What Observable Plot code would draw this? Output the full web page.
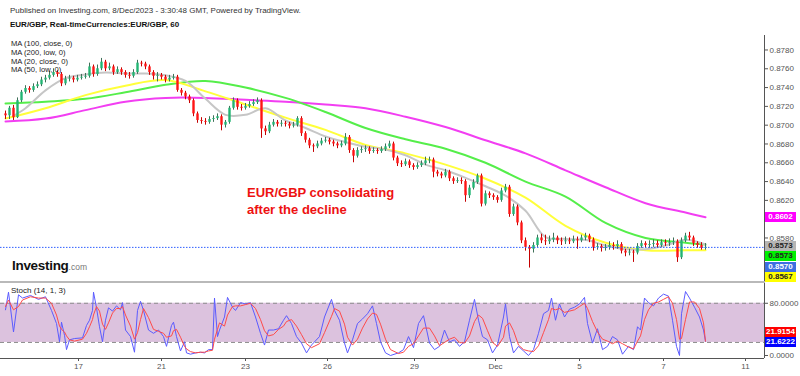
<!DOCTYPE html>
<html><head><meta charset="utf-8">
<script src="https://cdn.jsdelivr.net/npm/d3@7"></script>
<script src="https://cdn.jsdelivr.net/npm/@observablehq/plot@0.6"></script>
<style>
body{margin:0;background:#fff;font-family:"Liberation Sans",Arial,sans-serif;}
#root{position:relative;width:800px;height:376px;overflow:hidden;background:#fff;}
.abs{position:absolute;white-space:nowrap;line-height:1;}
.box{position:absolute;left:765px;width:31px;height:10px;line-height:10px;font-size:8px;font-weight:bold;text-align:center;}
</style></head><body><div id="root"></div>
<script>
// ---- hourly EUR/GBP candles (index = hour bar) ----
const firstOpen = 0.8712;
const closes = [
0.8710,0.8718,0.8708,0.8726,0.8735,0.8739,0.8737,0.8741,0.8743,0.8748,
0.8750,0.8753,0.8756,0.8754,0.8744,0.8749,0.8750,0.8748,0.8750,0.8751,
0.8752,0.8762,0.8754,0.8760,0.8767,0.8760,0.8762,0.8756,0.8759,0.8756,
0.8753,0.8752,0.8756,0.8766,0.8765,0.8762,0.8756,0.8752,0.8753,0.8751,
0.8748,0.8750,0.8751,0.8737,0.8734,0.8730,0.8726,0.8712,0.8705,0.8704,
0.8703,0.8706,0.8707,0.8709,0.8700,0.8703,0.8718,0.8726,0.8719,0.8718,
0.8720,0.8722,0.8724,0.8726,0.8696,0.8693,0.8700,0.8703,0.8701,0.8702,
0.8701,0.8699,0.8700,0.8707,0.8691,0.8684,0.8678,0.8677,0.8680,0.8683,
0.8684,0.8682,0.8680,0.8678,0.8680,0.8687,0.8673,0.8667,0.8673,0.8674,
0.8675,0.8672,0.8673,0.8672,0.8674,0.8677,0.8680,0.8665,0.8659,0.8658,
0.8661,0.8657,0.8655,0.8657,0.8659,0.8662,0.8663,0.8650,0.8648,0.8646,
0.8650,0.8643,0.8640,0.8641,0.8640,0.8625,0.8633,0.8639,0.8646,0.8616,
0.8627,0.8625,0.8623,0.8620,0.8630,0.8634,0.8605,0.8613,0.8596,0.8577,
0.8570,0.8568,0.8572,0.8580,0.8577,0.8576,0.8578,0.8580,0.8577,0.8576,
0.8577,0.8576,0.8578,0.8577,0.8580,0.8582,0.8578,0.8570,0.8571,0.8569,
0.8570,0.8572,0.8571,0.8573,0.8566,0.8564,0.8565,0.8564,0.8571,0.8574,
0.8572,0.8573,0.8574,0.8572,0.8575,0.8574,0.8575,0.8576,0.8559,0.8577,
0.8582,0.8580,0.8574,0.8572,0.8569,0.8570];
const highs = [
0.8715,0.8720,0.8721,0.8729,0.8737,0.8742,0.8741,0.8744,0.8746,0.8751,
0.8753,0.8757,0.8760,0.8758,0.8756,0.8752,0.8753,0.8752,0.8753,0.8754,
0.8755,0.8766,0.8764,0.8764,0.8771,0.8769,0.8766,0.8764,0.8762,0.8761,
0.8758,0.8756,0.8759,0.8769,0.8768,0.8767,0.8764,0.8758,0.8756,0.8755,
0.8753,0.8753,0.8754,0.8753,0.8739,0.8736,0.8732,0.8728,0.8714,0.8708,
0.8707,0.8709,0.8710,0.8712,0.8711,0.8705,0.8720,0.8729,0.8728,0.8722,
0.8723,0.8725,0.8727,0.8729,0.8728,0.8699,0.8703,0.8706,0.8705,0.8705,
0.8704,0.8703,0.8703,0.8709,0.8709,0.8693,0.8686,0.8680,0.8683,0.8686,
0.8687,0.8686,0.8684,0.8682,0.8683,0.8691,0.8689,0.8675,0.8676,0.8677,
0.8678,0.8677,0.8676,0.8675,0.8677,0.8680,0.8683,0.8682,0.8667,0.8662,
0.8664,0.8663,0.8659,0.8660,0.8662,0.8666,0.8666,0.8665,0.8652,0.8650,
0.8653,0.8652,0.8645,0.8644,0.8644,0.8642,0.8636,0.8642,0.8648,0.8648,
0.8630,0.8629,0.8627,0.8625,0.8633,0.8637,0.8636,0.8616,0.8615,0.8598,
0.8580,0.8572,0.8575,0.8583,0.8584,0.8583,0.8582,0.8585,0.8582,0.8580,
0.8581,0.8580,0.8582,0.8581,0.8583,0.8585,0.8584,0.8580,0.8574,0.8573,
0.8573,0.8576,0.8575,0.8577,0.8575,0.8568,0.8568,0.8567,0.8574,0.8577,
0.8576,0.8577,0.8578,0.8577,0.8578,0.8578,0.8579,0.8580,0.8578,0.8580,
0.8585,0.8586,0.8582,0.8576,0.8575,0.8574];
const lows = [
0.8706,0.8706,0.8705,0.8707,0.8724,0.8733,0.8734,0.8735,0.8739,0.8741,
0.8745,0.8748,0.8751,0.8751,0.8741,0.8742,0.8746,0.8745,0.8746,0.8748,
0.8749,0.8750,0.8751,0.8752,0.8758,0.8757,0.8758,0.8753,0.8754,0.8753,
0.8750,0.8749,0.8750,0.8754,0.8762,0.8759,0.8753,0.8748,0.8746,0.8748,
0.8745,0.8746,0.8748,0.8735,0.8731,0.8727,0.8723,0.8709,0.8702,0.8701,
0.8700,0.8701,0.8703,0.8705,0.8694,0.8697,0.8701,0.8716,0.8716,0.8715,
0.8716,0.8718,0.8720,0.8722,0.8686,0.8689,0.8691,0.8698,0.8698,0.8698,
0.8698,0.8696,0.8697,0.8698,0.8688,0.8681,0.8675,0.8671,0.8675,0.8678,
0.8681,0.8679,0.8677,0.8675,0.8676,0.8678,0.8670,0.8660,0.8665,0.8670,
0.8671,0.8669,0.8670,0.8669,0.8670,0.8672,0.8675,0.8662,0.8656,0.8655,
0.8656,0.8654,0.8652,0.8653,0.8655,0.8657,0.8659,0.8644,0.8645,0.8643,
0.8644,0.8640,0.8637,0.8638,0.8637,0.8618,0.8622,0.8631,0.8637,0.8613,
0.8614,0.8622,0.8620,0.8617,0.8618,0.8628,0.8602,0.8603,0.8593,0.8574,
0.8566,0.8548,0.8564,0.8570,0.8574,0.8572,0.8573,0.8575,0.8573,0.8572,
0.8573,0.8573,0.8574,0.8568,0.8575,0.8577,0.8575,0.8566,0.8567,0.8565,
0.8566,0.8567,0.8567,0.8568,0.8563,0.8560,0.8561,0.8554,0.8562,0.8569,
0.8569,0.8569,0.8570,0.8569,0.8570,0.8571,0.8571,0.8572,0.8554,0.8557,
0.8575,0.8577,0.8571,0.8569,0.8567,0.8567];

// ---- moving averages (sampled at bar index) ----
const maTimes = [0,10,20,30,40,50,60,70,80,90,100,110,120,130,140,150,160,170,175];
const ma50low = [0.8707,0.8718,0.8732,0.8742,0.8748,0.8736,0.8722,0.8708,0.8695,0.8679,0.8670,0.8658,0.8643,0.8623,0.8593,0.8575,0.8567,0.8567,0.8567];
const ma100close = [0.8723,0.8725,0.8728,0.8735,0.8743,0.8747,0.8740,0.8729,0.8714,0.8697,0.8685,0.8675,0.8660,0.8640,0.8624,0.8596,0.8580,0.8575,0.8573];
const ma200low = [0.8704,0.8707,0.8716,0.8725,0.8729,0.8729,0.8727,0.8725,0.8722,0.8718,0.8709,0.8698,0.8684,0.8670,0.8652,0.8634,0.8617,0.8607,0.8602];
const ma20Times = [2,5,10,15,20,25,30,35,40,45,50,55,60,65,70,75,80,85,90,95,100,105,110,115,120,125,130,135,140,145,150,155,160,165,170,175];
const ma20close = [0.8710,0.8718,0.8737,0.8750,0.8754,0.8756,0.8755,0.8755,0.8753,0.8747,0.8728,0.8711,0.8711,0.8718,0.8705,0.8697,0.8688,0.8682,0.8677,0.8674,0.8668,0.8658,0.8652,0.8644,0.8635,0.8625,0.8609,0.8581,0.8579,0.8578,0.8572,0.8568,0.8568,0.8572,0.8578,0.8573];

// ---- stochastic (14,1,3) ----
const stochT = [
0,0.75,2,3.25,4.25,6.25,8.25,10,11.5,12.75,
13.5,14,14.75,15.25,16,17.25,19.25,20.25,21,21.75,
22,22.75,23.5,24.25,25,25.75,26.75,27.75,28.75,29.25,
30,31.25,32.25,33,33.75,34.5,35.75,37,38.25,39.5,
40.25,41.5,42,42.75,43.75,44.75,45.25,46.25,47.5,48.75,
49.75,50.75,51.75,52.25,53,53.5,54.75,55.5,56.75,57.5,
58.75,60,61.25,62.5,63.75,64.75,65.75,67,68.25,69.5,
70.25,71.5,72.75,74,75.25,76.5,78.5,79.75,81.5,82.25,
83.5,84.75,85.5,86.75,88,89.25,90.5,91.75,92.75,93.75,
95,96.25,98.25,99.5,100.75,102,103.25,104.5,106,107.25,
108.5,109.75,111,112.25,113.5,114.75,116,117.25,118.25,119.25,
120.5,121.75,123,124.5,125,126,127,128.25,129.5,130.75,
132,133.25,134.5,135.75,136.5,137.5,138.5,139.75,141,142.25,
143.5,144.75,145.5,146.75,148,149.25,150.5,151.75,153,154.25,
155.75,157,158,158.75,159.75,160.75,162,163.25,164.5,165.75,
166.75,167.75,168.5,169,170,171,172.25,173.5,174.5,175];
const stochK = [
70,97,36,93,88,92,86,90,69,49,
21,51,31,9,24,26,27,46,54,69,
97,73,44,21,54,73,68,76,70,81,
39,29,5,69,83,69,39,34,39,29,
14,46,51,29,7,21,4,2,4,5,
4,9,9,88,29,39,59,89,74,69,
81,79,81,59,34,16,39,39,41,54,
61,49,29,19,4,16,29,59,86,69,
54,19,4,24,49,56,64,76,49,21,
4,0,4,9,29,12,49,61,19,9,
14,39,21,24,14,21,54,86,54,29,
24,4,16,59,79,29,4,14,7,0,
9,34,64,69,88,54,79,59,71,74,
79,89,49,19,41,9,14,29,24,2,
14,9,44,39,88,81,76,88,94,91,
54,14,0,64,98,88,74,59,39,21.6222];
const stochD = [
75,85,70,75,85,90,88,88,80,62,
45,40,36,30,24,22,25,34,44,55,
62,75,68,48,40,50,65,72,72,75,
62,45,25,35,55,72,58,40,37,34,
28,30,38,40,28,14,10,6,4,5,
5,7,8,25,40,50,45,62,75,76,
76,78,80,72,55,38,30,32,40,45,
52,55,45,32,18,12,18,35,60,72,
68,48,28,16,25,42,56,65,63,48,
25,9,3,5,14,18,30,42,42,30,
15,20,25,28,20,19,30,52,62,57,
38,20,14,28,45,50,38,16,9,7,
6,15,35,55,72,70,72,66,68,70,
75,80,72,52,36,25,22,18,22,18,
13,10,22,30,55,70,80,82,86,90,
80,55,25,26,55,82,82,72,50,21.9154];
const stochBands = [20, 80];
const stochTicks = [0, 80];

// ---- axes (0.8600 is hidden behind the MA(200) price label in the source) ----
const priceTicks = [0.8580,0.8620,0.8640,0.8660,0.8680,0.8700,0.8720,0.8740,0.8760,0.8780];
const xTickTimes = [18.25,39,60,80.5,102.25,122.5,143.5,164.5,185];
const xTickLabels = ["17","21","23","26","29","Dec","5","7","11"];

// ---- build ----
const FONT = '"Liberation Sans", Arial, sans-serif';
const root = document.getElementById("root");
function addDiv(txt, css, cls){const d=document.createElement("div");d.className=cls||"abs";d.textContent=txt;Object.assign(d.style,css);root.appendChild(d);return d;}

const candles = closes.map((c,i)=>({t:i,o:i?closes[i-1]:firstOpen,c,h:highs[i],l:lows[i]}));
const UP="#22b573", DN="#ff1414";
const pts = (ts,vs)=>ts.map((t,i)=>({t,v:vs[i]}));
const xDomain = [-1.25, 189.75];
const lastClose = closes[closes.length-1];

const main = Plot.plot({
  width: 800, height: 246, marginTop: 0, marginBottom: 0, marginLeft: 0, marginRight: 36,
  x: {domain: xDomain, axis: null},
  y: {domain: [0.85337, 0.87954], axis: "right", ticks: priceTicks, tickFormat: d3.format(".4f"), tickSize: 3, tickPadding: 2, label: null},
  style: {fontFamily: FONT, fontSize: "8px", color: "#555", background: "transparent", overflow: "visible"},
  marks: [
    Plot.line(pts(maTimes, ma200low), {x:"t", y:"v", stroke:"#f23ef2", strokeWidth:2, curve:"catmull-rom"}),
    Plot.line(pts(maTimes, ma100close), {x:"t", y:"v", stroke:"#55ee4a", strokeWidth:2, curve:"catmull-rom"}),
    Plot.line(pts(maTimes, ma50low), {x:"t", y:"v", stroke:"#ffff3a", strokeWidth:2, curve:"catmull-rom"}),
    Plot.line(pts(ma20Times, ma20close), {x:"t", y:"v", stroke:"#c6c6c6", strokeWidth:2, curve:"catmull-rom"}),
    Plot.ruleX(candles, {x:"t", y1:"l", y2:"h", stroke: d => d.c >= d.o ? "#3f7059" : "#c40000", strokeWidth: 1}),
    Plot.ruleX(candles, {x:"t", y1:"o", y2:"c", stroke: d => d.c >= d.o ? UP : DN, strokeWidth: 2.4}),
    Plot.ruleY([lastClose], {stroke:"#2f5fff", strokeWidth: 1, strokeDasharray:"1.5,1.5"}),
    Plot.ruleX([xDomain[1]], {stroke:"#555"})
  ]
});
const mainWrap = document.createElement("div");
Object.assign(mainWrap.style,{position:"absolute",left:"0px",top:"35px"});
mainWrap.appendChild(main);
root.appendChild(mainWrap);

const stoch = Plot.plot({
  width: 800, height: 92, marginTop: 0, marginBottom: 17, marginLeft: 0, marginRight: 36,
  x: {domain: xDomain, axis: "bottom", ticks: xTickTimes, tickFormat: d => xTickLabels[xTickTimes.indexOf(d)], tickSize: 3, tickPadding: 2, label: null},
  y: {domain: [-4.6, 110.3], axis: "right", ticks: stochTicks, tickFormat: d3.format(".4f"), tickSize: 3, tickPadding: 2, label: null},
  style: {fontFamily: FONT, fontSize: "8px", color: "#555", background: "transparent", overflow: "visible"},
  marks: [
    Plot.rect([stochBands], {x1: () => xDomain[0], x2: () => xDomain[1], y1: d => d[0], y2: d => d[1], fill: "#dcc2de"}),
    Plot.ruleY(stochBands, {stroke: "#8c8c8c", strokeDasharray: "4,3"}),
    Plot.line(pts(stochT, stochK), {x:"t", y:"v", stroke:"#5b5bff", strokeWidth:1}),
    Plot.line(pts(stochT, stochD), {x:"t", y:"v", stroke:"#ff4a4a", strokeWidth:1}),
    Plot.ruleX([xDomain[1]], {stroke:"#555"}),
    Plot.ruleY([-4.6], {stroke:"#555"})
  ]
});
const stochWrap = document.createElement("div");
Object.assign(stochWrap.style,{position:"absolute",left:"0px",top:"283px"});
stochWrap.appendChild(stoch);
root.appendChild(stochWrap);

// separator between panels
const sep = document.createElement("div");
Object.assign(sep.style,{position:"absolute",left:"0px",top:"281px",width:"765px",height:"2px",background:"#b9b9b9"});
root.appendChild(sep);

// header texts
addDiv("Published on Investing.com, 8/Dec/2023 - 3:30:48 GMT, Powered by TradingView.", {left:"10px",top:"7px",fontSize:"8px",color:"#333"});
addDiv("EUR/GBP, Real-timeCurrencies:EUR/GBP, 60", {left:"10px",top:"21px",fontSize:"8px",fontWeight:"bold",color:"#111"});
["MA (100, close, 0)","MA (200, low, 0)","MA (20, close, 0)","MA (50, low, 0)"].forEach((s,i)=>{
  addDiv(s, {left:"11px",top:(40.3+i*8.6)+"px",fontSize:"7.6px",color:"#222"});
});

// annotation
addDiv("EUR/GBP consolidating", {left:"247px",top:"186px",fontSize:"13px",fontWeight:"bold",color:"#ee1111"});
addDiv("after the decline", {left:"247px",top:"203px",fontSize:"13px",fontWeight:"bold",color:"#ee1111"});

// logo
const logo = addDiv("", {left:"12px",top:"258.5px",fontSize:"13.5px",fontWeight:"bold",color:"#111",letterSpacing:"-0.3px"});
logo.innerHTML = 'Investing<span style="font-size:8.5px;font-weight:normal;color:#777;letter-spacing:0">.com</span>';

addDiv("Stoch (14, 1, 3)", {left:"11px",top:"287px",fontSize:"8px",color:"#222"});

// price labels on right axis (stacked to avoid overlap)
const ys = main.scale("y");
const priceLabels = [
  {v: ma200low[ma200low.length-1], bg:"#ff00ff", fg:"#fff"},
  {v: ma20close[ma20close.length-1], bg:"#b5b5b5", fg:"#222"},
  {v: ma100close[ma100close.length-1], bg:"#00f000", fg:"#222"},
  {v: lastClose, bg:"#3d6fe0", fg:"#fff"},
  {v: ma50low[ma50low.length-1], bg:"#ffff00", fg:"#222"}
];
let prevY = -1e9;
priceLabels.map((d,i)=>({...d, y: 35 + ys.apply(d.v), i}))
  .sort((a,b)=> a.y - b.y || a.i - b.i)
  .forEach((d,k)=>{
    let y = Math.max(d.y + (k ? 2 : 0), prevY + 10.4);
    prevY = y;
    addDiv(d3.format(".4f")(d.v), {top:(y-5)+"px", background:d.bg, color:d.fg}, "box");
  });

// stoch value labels
const ss = stoch.scale("y");
const kLast = stochK[stochK.length-1], dLast = stochD[stochD.length-1];
addDiv(d3.format(".4f")(dLast), {top:(283 + ss.apply(dLast) - 14)+"px", background:"#ff0000", color:"#fff"}, "box");
addDiv(d3.format(".4f")(kLast), {top:(283 + ss.apply(kLast) - 4)+"px", background:"#0000ff", color:"#fff"}, "box");
</script>
</body></html>
